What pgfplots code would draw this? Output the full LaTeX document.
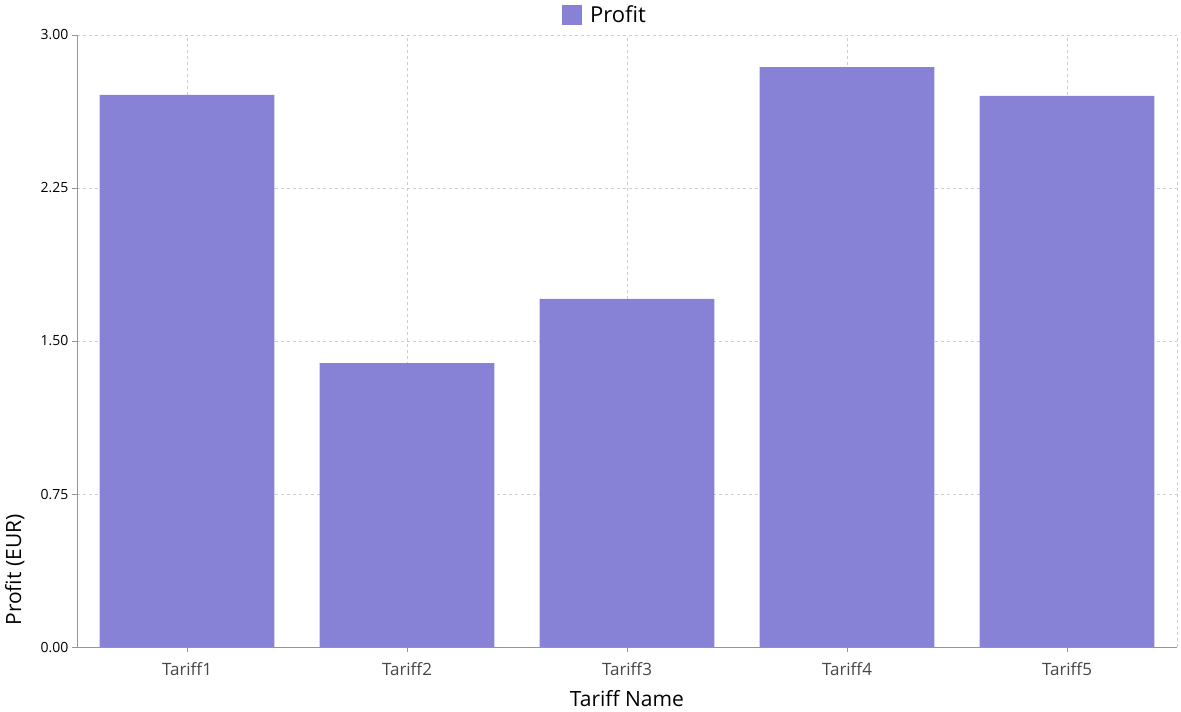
\documentclass[border=0pt]{standalone}
\usepackage{pgfplots}
\pgfplotsset{compat=1.18}
\usepackage{fontspec}
\setmainfont{Open Sans}
\definecolor{barc}{RGB}{136,130,214}
\definecolor{axc}{RGB}{150,150,150}
\definecolor{gridc}{RGB}{205,205,205}
\definecolor{tickc}{RGB}{70,70,70}
\begin{document}
\begin{tikzpicture}
\begin{axis}[
  scale only axis,
  width=1100pt, height=612pt,
  xmin=-0.5, xmax=4.5,
  ymin=0, ymax=3,
  xtick={0,1,2,3,4},
  xticklabels={Tariff1,Tariff2,Tariff3,Tariff4,Tariff5},
  ytick={0,0.75,1.5,2.25,3},
  yticklabel style={/pgf/number format/fixed,/pgf/number format/fixed zerofill,/pgf/number format/precision=2},
  /pgf/number format/assume math mode=true,
  axis x line*=bottom, axis y line*=left,
  axis line style={axc, line width=1pt, -},
  tick align=outside,
  major tick length=5pt,
  tick style={axc, line width=0.8pt},
  grid=major,
  grid style={gridc, dashed, line width=0.8pt},
  extra x ticks={4.5},
  extra x tick labels={},
  extra x tick style={grid=major, major tick length=0pt},
  yticklabel style={font=\fontsize{14}{16}\selectfont, text=black},
  xticklabel style={font=\fontsize{17}{20}\selectfont, text=tickc, yshift=-7pt},
  xlabel={Tariff Name},
  xlabel style={font=\fontsize{21}{24}\selectfont, yshift=-3pt},
  ylabel={Profit (EUR)},
  ylabel style={font=\fontsize{21}{24}\selectfont, at={(rel axis cs:0,0.126)}, anchor=south, yshift=49pt},
  legend style={draw=none, at={(0.5,1)}, anchor=south, yshift=9pt, xshift=-22pt, font=\fontsize{22}{25}\selectfont, inner sep=0pt},
  legend image code/.code={\fill[barc] (0pt,-10pt) rectangle (20pt,10pt);},
  clip=false,
]
\addplot[ybar, bar width=0.795, fill=barc, draw=none, bar shift=0pt] coordinates {
  (0,2.706) (1,1.392) (2,1.706) (3,2.843) (4,2.701)
};
\addlegendentry{\hspace{6pt}Profit}
\end{axis}
\pgfresetboundingbox
\path (current axis.south west) ++(-77pt,-64pt) rectangle ([xshift=4pt,yshift=35pt]current axis.north east);
\end{tikzpicture}
\end{document}
